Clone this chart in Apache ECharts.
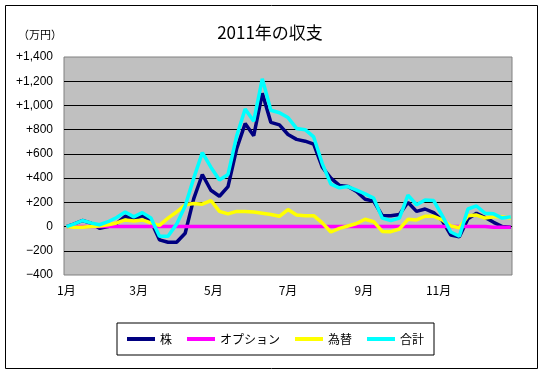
<!DOCTYPE html>
<html>
<head>
<meta charset="utf-8">
<script src="https://cdn.jsdelivr.net/npm/echarts@6/dist/echarts.min.js"></script>
<style>
  html, body { margin: 0; padding: 0; background: #fff; }
  #chart { width: 540px; height: 371px; }
</style>
</head>
<body>
<div id="chart"></div>
<script>
// ---- Data ----
const weeks = [
  '2011-01-01','2011-01-07','2011-01-14','2011-01-21','2011-01-28',
  '2011-02-04','2011-02-11','2011-02-18','2011-02-25',
  '2011-03-04','2011-03-11','2011-03-18','2011-03-25',
  '2011-04-01','2011-04-08','2011-04-15','2011-04-22','2011-04-29',
  '2011-05-06','2011-05-13','2011-05-20','2011-05-27',
  '2011-06-03','2011-06-10','2011-06-17','2011-06-24',
  '2011-07-01','2011-07-08','2011-07-15','2011-07-22','2011-07-29',
  '2011-08-05','2011-08-12','2011-08-19','2011-08-26',
  '2011-09-02','2011-09-09','2011-09-16','2011-09-23','2011-09-30',
  '2011-10-07','2011-10-14','2011-10-21','2011-10-28',
  '2011-11-04','2011-11-11','2011-11-18','2011-11-25',
  '2011-12-02','2011-12-09','2011-12-16','2011-12-23','2011-12-30'
];
const kabu = [
  0, 20, 50, 28, -15, 0, 25, 85, 60, 90, 45, -110, -130,
  -130, -55, 230, 430, 300, 250, 330, 640, 850,
  750, 1100, 860, 840, 760, 720, 705, 680, 490,
  400, 340, 330, 290, 225, 210, 90, 90, 100,
  200, 125, 145, 115, 50, -70, -85, 65,
  110, 75, 35, 0, -5
];
const option = [
  0, 0, 0, 0, 0, 0, 0, 0, 0, 0, 0, 0, 0,
  0, 0, 0, 0, 0, 0, 0, 0, 0,
  0, 0, 0, 0, 0, 0, 0, 0, 0,
  0, 0, 0, 0, 0, 0, 0, 0, 0,
  0, 0, 0, 0, 0, 0, 0, 0,
  0, 0, -5, -5, -5
];
const kawase = [
  0, -5, -5, 0, 5, 15, 30, 55, 45, 55, 30, 10, 70,
  120, 180, 190, 185, 215, 125, 105, 125, 125,
  120, 110, 100, 85, 140, 95, 90, 90, 30,
  -45, -15, 5, 25, 60, 40, -40, -42, -20,
  60, 55, 85, 85, 55, 5, -10, 90,
  95, 70, 80, 80, 70
];
const goukei = [
  0, 20, 50, 30, 15, 40, 75, 120, 80, 115, 70, -80, -80,
  20, 170, 400, 610, 490, 385, 430, 745, 970,
  870, 1220, 960, 940, 900, 810, 800, 740, 520,
  350, 320, 330, 300, 270, 235, 70, 50, 70,
  260, 180, 220, 215, 90, -45, -80, 145,
  170, 110, 105, 70, 80
];
const seriesNames = ['株', 'オプション', '為替', '合計'];
const seriesColors = ['#000080', '#FF00FF', '#FFFF00', '#00FFFF'];
const monthTicks = ['01', '03', '05', '07', '09', '11'];
const monthLabels = ['1月', '3月', '5月', '7月', '9月', '11月'];
const yMin = -400, yMax = 1400, yStep = 200;

// ---- Axis categories: every day from 2010-12-30 to 2011-12-31 ----
const days = [];
for (let d = new Date(Date.UTC(2010, 11, 30)); d.getUTCFullYear() <= 2011; d.setUTCDate(d.getUTCDate() + 1)) {
  days.push(d.toISOString().slice(0, 10));
}

const allValues = [kabu, option, kawase, goukei];
const series = seriesNames.map((name, i) => ({
  name: name,
  type: 'line',
  symbol: 'none',
  smooth: false,
  data: weeks.map((w, j) => [w, allValues[i][j]]),
  lineStyle: { color: seriesColors[i], width: 3.5 },
  itemStyle: { color: seriesColors[i] }
}));

const jp = '"Noto Sans CJK JP", "Noto Sans", sans-serif';
const chart = echarts.init(document.getElementById('chart'), null, { renderer: 'canvas' });
chart.setOption({
  backgroundColor: '#ffffff',
  animation: false,
  title: [
    { text: '2011年の収支', left: 'center', top: 19,
      textStyle: { fontFamily: jp, fontSize: 17, fontWeight: 'normal', color: '#000' } },
    { text: '（万円）', left: 13, top: 24,
      textStyle: { fontFamily: jp, fontSize: 11, fontWeight: 'normal', color: '#000' } }
  ],
  graphic: [{
    type: 'rect', left: 3, top: 3,
    shape: { width: 532, height: 363 },
    style: { fill: 'none', stroke: '#000', lineWidth: 1 }
  }],
  grid: {
    left: 64, right: 28, top: 57, bottom: 96,
    show: true, backgroundColor: '#C0C0C0', borderColor: '#808080', borderWidth: 1
  },
  legend: {
    data: seriesNames,
    left: 117, top: 323,
    icon: 'rect', itemWidth: 28, itemHeight: 4, itemGap: 15,
    padding: [10, 10],
    borderColor: '#000', borderWidth: 1,
    textStyle: { fontFamily: jp, fontSize: 12, color: '#000' }
  },
  xAxis: {
    type: 'category',
    data: days,
    boundaryGap: false,
    axisLine: { show: false },
    axisTick: { show: false },
    splitLine: { show: false },
    axisLabel: {
      interval: (idx, val) => val.slice(0, 4) === '2011' && val.slice(8) === '01' && monthTicks.indexOf(val.slice(5, 7)) >= 0,
      formatter: (val) => monthLabels[monthTicks.indexOf(val.slice(5, 7))],
      fontFamily: jp, fontSize: 12, color: '#000', margin: 9
    }
  },
  yAxis: {
    type: 'value',
    min: yMin, max: yMax, interval: yStep,
    axisLine: { show: false },
    axisTick: { show: false },
    splitLine: { show: true, showMinLine: false, showMaxLine: false, lineStyle: { color: '#000', width: 1 } },
    axisLabel: {
      fontFamily: 'Liberation Sans, Arial, sans-serif', fontSize: 12, color: '#000', margin: 11,
      formatter: (v) => v > 0 ? '+' + v.toLocaleString('en-US') : (v < 0 ? '−' + Math.abs(v).toLocaleString('en-US') : '0')
    }
  },
  series: series
});
</script>
</body>
</html>
